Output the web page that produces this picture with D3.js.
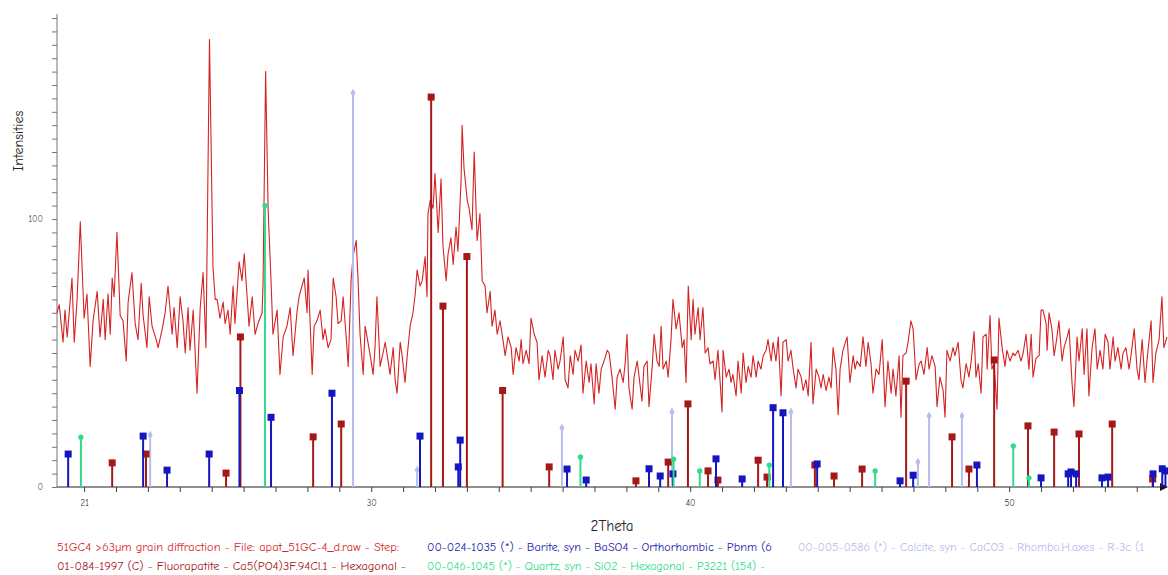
<!DOCTYPE html>
<html>
<head>
<meta charset="utf-8">
<script src="https://cdn.jsdelivr.net/npm/d3@7"></script>
<style>
  body { margin: 0; background: #fff; }
  svg { display: block; }
  text { font-family: "Comic Sans MS", "Comic Neue", "DejaVu Sans", sans-serif; }
</style>
</head>
<body>
<svg id="chart" width="1168" height="575"></svg>
<script>
const scan = [
  [20.15,65],[20.22,68],[20.34,54],[20.40,66],[20.47,56],[20.56,69],[20.62,78],[20.69,54],[20.78,70],[20.88,99],
  [21.00,63],[21.09,72],[21.19,45],[21.28,62],[21.41,73],[21.50,56],[21.60,70],[21.66,55],[21.75,72],[21.82,57],
  [21.88,78],[21.94,71],[22.03,95],[22.13,64],[22.22,62],[22.32,47],[22.38,69],[22.50,80],[22.60,61],[22.69,55],
  [22.79,76],[22.85,64],[22.97,52],[23.04,71],[23.13,60],[23.26,55],[23.32,52],[23.45,59],[23.54,65],[23.63,75],
  [23.76,57],[23.82,67],[23.92,52],[24.01,71],[24.10,62],[24.17,50],[24.26,67],[24.32,51],[24.42,66],[24.54,35],
  [24.64,67],[24.73,80],[24.82,52],[24.93,167],[25.04,82],[25.11,70],[25.17,70],[25.26,63],[25.36,69],[25.42,61],
  [25.51,66],[25.58,57],[25.67,75],[25.73,61],[25.86,84],[25.95,77],[26.02,87],[26.11,71],[26.17,60],[26.27,71],
  [26.36,57],[26.45,61],[26.58,65],[26.61,76],[26.69,155],[26.77,103],[26.86,77],[26.92,57],[27.05,66],[27.14,42],
  [27.24,56],[27.36,60],[27.46,67],[27.55,49],[27.68,66],[27.74,71],[27.83,75],[27.90,78],[27.99,65],[28.02,81],
  [28.15,42],[28.21,60],[28.30,62],[28.40,66],[28.49,55],[28.55,59],[28.65,52],[28.74,55],[28.81,78],[28.90,71],
  [28.96,61],[29.06,62],[29.12,71],[29.21,57],[29.28,45],[29.37,77],[29.43,86],[29.53,92],[29.59,77],[29.65,57],
  [29.75,42],[29.81,60],[29.87,56],[29.97,49],[30.06,42],[30.12,52],[30.18,71],[30.28,45],[30.37,50],[30.44,54],
  [30.53,47],[30.59,42],[30.69,52],[30.75,40],[30.81,35],[30.91,54],[30.97,49],[31.06,39],[31.13,49],[31.22,60],
  [31.31,65],[31.38,72],[31.44,81],[31.53,75],[31.60,77],[31.69,86],[31.75,71],[31.78,102],[31.85,107],[31.94,104],
  [32.00,117],[32.10,95],[32.19,115],[32.25,90],[32.35,77],[32.41,87],[32.50,93],[32.57,83],[32.66,97],[32.72,88],
  [32.82,115],[32.85,135],[32.91,119],[33.01,107],[33.07,104],[33.16,96],[33.23,125],[33.32,92],[33.41,102],[33.48,77],
  [33.57,75],[33.63,65],[33.73,73],[33.79,60],[33.88,66],[33.95,57],[34.04,62],[34.13,55],[34.20,49],[34.29,56],
  [34.39,52],[34.45,42],[34.54,52],[34.64,47],[34.70,55],[34.76,46],[34.86,51],[34.95,46],[35.01,63],[35.11,57],
  [35.20,54],[35.26,40],[35.36,49],[35.45,41],[35.55,51],[35.61,49],[35.70,40],[35.76,51],[35.86,44],[35.92,47],
  [36.02,56],[36.08,40],[36.17,37],[36.24,49],[36.33,42],[36.39,51],[36.49,47],[36.58,53],[36.64,35],[36.74,47],
  [36.83,39],[36.89,46],[36.99,31],[37.05,46],[37.14,35],[37.21,44],[37.30,47],[37.40,51],[37.46,50],[37.55,41],
  [37.65,29],[37.71,41],[37.80,44],[37.90,39],[37.96,46],[38.02,57],[38.08,37],[38.18,29],[38.24,41],[38.34,47],
  [38.40,41],[38.49,32],[38.55,45],[38.65,47],[38.71,30],[38.81,45],[38.87,57],[38.96,47],[39.03,45],[39.09,60],
  [39.15,44],[39.25,47],[39.31,41],[39.40,55],[39.46,70],[39.56,59],[39.62,63],[39.65,65],[39.75,52],[39.81,55],
  [39.87,39],[39.94,75],[40.03,55],[40.09,70],[40.15,57],[40.25,67],[40.31,55],[40.40,67],[40.47,50],[40.56,52],
  [40.62,46],[40.72,47],[40.78,40],[40.87,51],[40.94,39],[41.00,28],[41.03,51],[41.13,41],[41.22,44],[41.28,39],
  [41.34,42],[41.44,34],[41.50,47],[41.60,35],[41.66,50],[41.75,39],[41.82,45],[41.91,41],[41.97,49],[42.07,41],
  [42.13,47],[42.22,44],[42.29,49],[42.38,51],[42.44,55],[42.54,47],[42.60,54],[42.69,47],[42.76,56],[42.85,34],
  [42.91,54],[43.01,55],[43.07,47],[43.16,51],[43.23,44],[43.32,37],[43.38,44],[43.48,41],[43.54,36],[43.63,40],
  [43.70,34],[43.79,54],[43.85,31],[43.95,44],[44.04,41],[44.10,37],[44.17,42],[44.26,36],[44.35,41],[44.42,37],
  [44.48,52],[44.57,44],[44.64,27],[44.70,44],[44.79,51],[44.92,56],[45.01,39],[45.11,49],[45.17,44],[45.23,47],
  [45.33,45],[45.42,56],[45.51,45],[45.58,54],[45.67,46],[45.73,35],[45.83,44],[45.92,42],[46.02,55],[46.11,30],
  [46.20,47],[46.30,35],[46.36,44],[46.45,34],[46.55,49],[46.61,26],[46.67,49],[46.77,50],[46.83,54],[46.92,62],
  [46.99,59],[47.08,40],[47.18,46],[47.24,47],[47.33,42],[47.43,52],[47.49,44],[47.58,49],[47.68,45],[47.74,30],
  [47.83,41],[47.93,36],[47.99,26],[48.05,51],[48.15,47],[48.24,52],[48.30,49],[48.40,54],[48.49,40],[48.55,37],
  [48.65,46],[48.74,41],[48.81,47],[48.90,58],[48.96,41],[49.03,46],[49.12,35],[49.18,56],[49.28,57],[49.31,44],
  [49.40,64],[49.46,44],[49.53,46],[49.62,29],[49.68,63],[49.78,52],[49.87,45],[49.93,51],[50.03,47],[50.12,50],
  [50.18,49],[50.28,51],[50.37,47],[50.44,50],[50.53,57],[50.62,44],[50.69,57],[50.75,41],[50.84,48],[50.94,49],
  [51.00,66],[51.06,66],[51.16,61],[51.19,51],[51.25,65],[51.34,59],[51.41,49],[51.50,56],[51.56,62],[51.66,47],
  [51.72,52],[51.82,56],[51.88,59],[51.97,39],[52.03,30],[52.13,56],[52.19,47],[52.29,59],[52.35,42],[52.44,59],
  [52.50,34],[52.60,52],[52.69,59],[52.76,44],[52.85,51],[52.94,44],[53.01,57],[53.10,54],[53.16,44],[53.26,56],
  [53.32,47],[53.41,52],[53.51,44],[53.57,50],[53.66,52],[53.76,44],[53.82,49],[53.92,59],[54.01,44],[54.07,40],
  [54.17,55],[54.26,39],[54.32,47],[54.45,62],[54.51,39],[54.60,50],[54.70,55],[54.79,71],[54.85,52],[54.95,56]
];

// reference patterns: [2theta, relative height on the counts scale]
const fluorapatite = [
  [21.88,9],[22.94,12.3],[25.45,5.2],[25.90,56],[28.18,18.7],[29.06,23.5],[31.88,145.5],[32.25,67.5],
  [33.00,86],[34.12,36],[35.58,7.5],[38.30,2.3],[39.31,9.3],[39.93,31],[40.56,6],[40.87,2.6],
  [42.13,10],[42.41,3.7],[43.91,8.2],[44.51,4.1],[45.39,6.7],[46.77,39.5],[48.21,18.7],[48.74,6.7],
  [49.53,47.4],[50.59,22.8],[51.41,20.5],[52.19,19.8],[53.23,23.5],[54.50,3]
];
const barite = [
  [20.50,12.3],[22.85,19],[23.60,6.3],[24.92,12.3],[25.87,36],[26.86,26],[28.77,35],[31.53,19],
  [32.73,7.5],[32.79,17.5],[36.14,6.7],[36.74,2.6],[38.71,6.8],[39.06,4.1],[39.46,4.9],[40.81,10.5],
  [41.63,3],[42.60,29.6],[42.91,27.7],[43.98,8.6],[46.58,2.3],[46.99,4.4],[48.99,8.2],[51.00,3.4],
  [51.85,4.9],[51.94,5.6],[52.10,4.9],[52.91,3.4],[53.10,3.7],[54.51,4.9],[54.80,6.8],[54.90,6]
];
const quartz = [
  [20.90,18.6],[26.67,105],[36.56,11.2],[39.48,10.4],[40.30,6],[42.48,8.2],[45.80,6],[50.13,15.3],[50.62,3.4]
];
const calcite = [
  [23.07,19.4],[29.43,147],[31.44,6.3],[35.98,22],[39.43,28],[43.16,28],[47.14,9.3],[47.49,26.5],[48.52,26.5]
];

const xTickValues = d3.range(21, 55, 1);
const xTickLabels = [21, 30, 40, 50];
const yTickValues = d3.range(0, 176, 5);
const yTickLabels = [0, 100];

const legendRows = [
  [{ text: "51GC4 >63µm grain diffraction - File: apat_51GC-4_d.raw - Step:", color: "#d42a2a", w: 342 },
   { text: "00-024-1035 (*) - Barite, syn - BaSO4 - Orthorhombic - Pbnm (6", color: "#1a1aa8", w: 345 },
   { text: "00-005-0586 (*) - Calcite, syn - CaCO3 - Rhombo.H.axes - R-3c (1", color: "#b7bdee", w: 346 }],
  [{ text: "01-084-1997 (C) - Fluorapatite - Ca5(PO4)3F.94Cl.1 - Hexagonal -", color: "#a51818", w: 349 },
   { text: "00-046-1045 (*) - Quartz, syn - SiO2 - Hexagonal - P3221 (154) -", color: "#2fdc8c", w: 338 }]
];

const svg = d3.select("#chart");
const x = d3.scaleLinear().domain([20.15, 54.98]).range([57, 1168]);
const y = d3.scaleLinear().domain([0, 176.5]).range([487, 14]);

// y axis
const yAxis = svg.append("g")
  .attr("transform", "translate(57,0)")
  .call(d3.axisLeft(y).tickValues(yTickValues).tickSize(5)
    .tickFormat(d => yTickLabels.includes(d) ? d : ""));
yAxis.selectAll("line").attr("stroke", "#777");
yAxis.select(".domain").attr("stroke", "#777").attr("d", "M0," + y(176.5) + "V" + y(0));
yAxis.selectAll("text").attr("fill", "#555").style("font-size", "9px").attr("x", -14);

// x axis
const xAxis = svg.append("g")
  .attr("transform", "translate(0,487)")
  .call(d3.axisBottom(x).tickValues(xTickValues).tickSize(5)
    .tickFormat(d => xTickLabels.includes(d) ? d : ""));
xAxis.selectAll("line").attr("stroke", "#444");
xAxis.select(".domain").attr("stroke", "#222").attr("d", "M57,0H1162");
xAxis.selectAll("text").attr("fill", "#444").style("font-size", "9px").attr("y", 13);
svg.append("path").attr("d", "M1160,483L1168,487L1160,491Z").attr("fill", "#111");

// scan trace
svg.append("path")
  .datum(scan)
  .attr("fill", "none")
  .attr("stroke", "#d52323")
  .attr("stroke-width", 1.1)
  .attr("stroke-linejoin", "round")
  .attr("d", d3.line().x(d => x(d[0])).y(d => y(d[1])));

// stick patterns
function sticks(data, color, marker) {
  const g = svg.append("g");
  g.selectAll("line").data(data).enter().append("line")
    .attr("x1", d => x(d[0])).attr("x2", d => x(d[0]))
    .attr("y1", y(0)).attr("y2", d => y(d[1]))
    .attr("stroke", color).attr("stroke-width", 2);
  if (marker === "square") {
    g.selectAll("rect").data(data).enter().append("rect")
      .attr("x", d => x(d[0]) - 3.5).attr("y", d => y(d[1]) - 3.5)
      .attr("width", 7).attr("height", 7).attr("fill", color);
  } else {
    g.selectAll("path.m").data(data).enter().append("path")
      .attr("class", "m")
      .attr("transform", d => "translate(" + x(d[0]) + "," + y(d[1]) + ")")
      .attr("d", d3.symbol(marker === "diamond" ? d3.symbolDiamond : d3.symbolCircle, 22))
      .attr("fill", color);
  }
}
sticks(calcite, "#b7bdee", "diamond");
sticks(fluorapatite, "#a51818", "square");
sticks(barite, "#1616c0", "square");
sticks(quartz, "#2fdc8c", "circle");

// axis titles
svg.append("text")
  .attr("transform", "translate(23,141) rotate(-90)")
  .attr("text-anchor", "middle")
  .style("font-size", "14px").attr("fill", "#222")
  .text("Intensities");
svg.append("text")
  .attr("x", 612).attr("y", 531)
  .attr("text-anchor", "middle")
  .style("font-size", "15px").attr("fill", "#222")
  .text("2Theta");

// legend
const colX = [57, 427, 798];
const rowY = [551, 570];
legendRows.forEach((row, r) => {
  row.forEach((item, c) => {
    svg.append("text")
      .attr("x", colX[c]).attr("y", rowY[r])
      .attr("fill", item.color)
      .style("font-size", "12px")
      .attr("textLength", item.w)
      .attr("lengthAdjust", "spacingAndGlyphs")
      .text(item.text);
  });
});
</script>
</body>
</html>
